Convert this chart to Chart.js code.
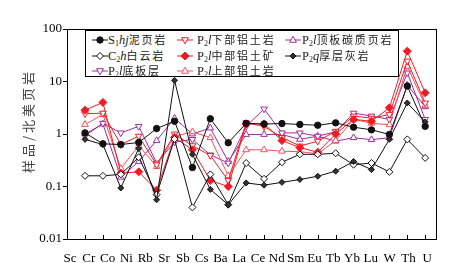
<!DOCTYPE html>
<html><head><meta charset="utf-8">
<script src="https://cdn.jsdelivr.net/npm/chart.js@4/dist/chart.umd.min.js"></script>
<style>
html,body{margin:0;padding:0;background:#fff;}
#wrap{position:relative;width:459px;height:263px;}
#legend{position:absolute;left:85px;top:30px;width:314px;height:47px;border:1px solid #000;background:#fff;box-sizing:border-box;}
.mk{position:absolute;}
.tx{position:absolute;font-family:"Liberation Serif",serif;font-size:12.5px;color:#222;white-space:nowrap;line-height:14px;}
.tx .cn{font-family:"Noto Sans CJK SC",sans-serif;font-size:11px;letter-spacing:1.8px;}
.tx sub{font-size:8px;vertical-align:-2px;line-height:0;}
</style></head>
<body>
<div id="wrap">
<canvas id="c" width="459" height="263"></canvas>
<div id="legend"></div>
</div>
<script>
// ---- data ----
const cats = ['Sc','Cr','Co','Ni','Rb','Sr','Sb','Cs','Ba','La','Ce','Nd','Sm','Eu','Tb','Yb','Lu','W','Th','U'];
const yTickVals = [0.01, 0.1, 1, 10, 100];
const s1hjShale   = [1.05,0.65,0.63,0.69,1.27,1.75,0.23,1.95,0.68,1.6,1.55,1.58,1.52,1.47,1.63,1.35,1.2,0.98,8.2,1.4];
const c2hDolomite = [0.16,0.16,0.17,0.36,0.07,0.8,0.04,0.17,0.045,0.28,0.14,0.29,0.41,0.41,0.43,0.26,0.28,0.19,0.79,0.35];
const p2lFloor    = [0.92,1.6,1.05,1.4,0.28,0.7,0.79,0.4,0.28,1.4,3.0,1.05,1.05,0.91,1.1,2.5,2.2,1.9,14.6,1.9];
const p2lLower    = [2.43,2.5,0.63,0.91,0.26,1.0,0.6,0.39,0.13,1.63,1.4,0.86,0.59,0.73,1.13,2.2,2.0,2.35,24.5,3.9];
const p2lMiddle   = [2.84,4.0,0.18,0.19,0.085,0.86,0.5,0.13,0.1,1.55,1.56,0.75,0.55,0.45,1.0,1.9,1.75,3.15,37.8,6.1];
const p2lUpper    = [1.52,2.35,0.22,0.6,0.24,0.9,1.1,0.85,0.16,0.5,0.5,0.47,0.46,0.42,0.75,1.9,1.6,1.5,19.5,3.5];
const p2lRoof     = [1.0,1.55,0.15,0.3,0.75,2.0,1.0,1.3,0.3,0.98,0.98,0.98,0.79,0.91,0.73,0.85,0.78,0.85,8.5,3.3];
const p2qLime     = [0.79,0.63,0.094,0.53,0.056,10.5,0.41,0.088,0.045,0.117,0.106,0.12,0.136,0.157,0.196,0.3,0.21,0.79,3.9,1.7];
const yTitle = '样品/北美页岩';

const BLACK='#111', RED='#f01c24', RED2='#f4505c', PURP='#a02c9c';

const series = [
 {label:'S₁hj泥页岩', html:'S<sub>1</sub><i>hj</i><span class="cn">泥页岩</span>', data:s1hjShale, color:BLACK, style:'circle', rot:0, fill:BLACK, r:3.2, order:1},
 {label:'C₂h白云岩', html:'C<sub>2</sub><i>h</i><span class="cn">白云岩</span>', data:c2hDolomite, color:BLACK, style:'rectRot', rot:0, fill:'#fff', r:3.5, order:3},
 {label:'P₂l底板层', html:'P<sub>2</sub><i>l</i><span class="cn">底板层</span>', data:p2lFloor, color:PURP, style:'triangle', rot:180, fill:'#fff', r:3.8, order:7},
 {label:'P₂l下部铝土岩', html:'P<sub>2</sub><i>l</i><span class="cn">下部铝土岩</span>', data:p2lLower, color:RED, style:'triangle', rot:180, fill:'#fff', r:3.8, order:5},
 {label:'P₂l中部铝土矿', html:'P<sub>2</sub><i>l</i><span class="cn">中部铝土矿</span>', data:p2lMiddle, color:RED, style:'rectRot', rot:0, fill:RED, r:4, order:4},
 {label:'P₂l上部铝土岩', html:'P<sub>2</sub><i>l</i><span class="cn">上部铝土岩</span>', data:p2lUpper, color:RED2, style:'triangle', rot:0, fill:'#fff', r:3.8, order:6},
 {label:'P₂l顶板碳质页岩', html:'P<sub>2</sub><i>l</i><span class="cn">顶板碳质页岩</span>', data:p2lRoof, color:PURP, style:'triangle', rot:0, fill:'#fff', r:3.8, order:8},
 {label:'P₂q厚层灰岩', html:'P<sub>2</sub><i>q</i><span class="cn">厚层灰岩</span>', data:p2qLime, color:BLACK, style:'rectRot', rot:0, fill:'#333', r:3, order:2}
];

const framePlugin = {
 id:'frame',
 afterDraw(chart){
  const {ctx, chartArea:a, scales} = chart;
  ctx.save();
  ctx.strokeStyle='#000'; ctx.lineWidth=1;
  ctx.strokeRect(a.left+0.5, a.top+0.5, a.right-a.left-1, a.bottom-a.top);
  for(let i=0;i<cats.length;i++){
    const px=Math.round(scales.x.getPixelForValue(i))+0.5;
    ctx.beginPath(); ctx.moveTo(px,a.bottom); ctx.lineTo(px,a.bottom-4); ctx.stroke();
  }
  ctx.restore();
  // y-axis title, drawn char by char (bottom to top)
  ctx.save();
  ctx.translate(28,122.5); ctx.rotate(-Math.PI/2);
  ctx.font='13px "Noto Sans CJK SC"'; ctx.fillStyle='#444';
  ctx.textAlign='left'; ctx.textBaseline='middle';
  const chars=[...yTitle];
  const ws=chars.map(c=>ctx.measureText(c).width);
  const total=101;
  const gap=(total-ws.reduce((p,q)=>p+q,0))/(chars.length-1);
  let x=-total/2;
  chars.forEach((c,i)=>{ ctx.fillText(c,x,0); x+=ws[i]+gap; });
  ctx.restore();
 }
};

new Chart(document.getElementById('c'), {
 type:'line',
 data:{ datasets: series.map(s=>({
   label:s.label,
   data:s.data.map((v,i)=>({x:i,y:v})),
   borderColor:s.color, backgroundColor:s.fill,
   pointBorderColor:s.color, pointBackgroundColor:s.fill,
   borderWidth:1, pointBorderWidth:1,
   pointStyle:s.style, pointRotation:s.rot, pointRadius:s.r,
   order:s.order, xAxisID:'x', yAxisID:'y', tension:0
 }))},
 options:{
  responsive:false, animation:false, devicePixelRatio:1,
  layout:{padding:{top:29,right:22,left:0,bottom:0}},
  plugins:{legend:{display:false}, tooltip:{enabled:false}},
  scales:{
   x:{type:'linear', display:false, min:-1.006, max:19.66},
   x2:{type:'linear', position:'bottom', min:-0.16, max:19.52,
       grid:{display:false}, border:{display:false},
       ticks:{stepSize:1, includeBounds:false, autoSkip:false, maxRotation:0, padding:4,
              color:'#000', font:{family:'"Liberation Serif", serif', size:13},
              callback:(v)=> Number.isInteger(v) && cats[v] !== undefined ? cats[v] : ''},
       afterFit:(s)=>{ s.height=24; }},
   y:{type:'logarithmic', min:0.01, max:100,
      grid:{drawOnChartArea:false, drawTicks:true, tickLength:4, color:'#000'},
      border:{display:false},
      afterBuildTicks:(s)=>{ s.ticks = yTickVals.map(v=>({value:v, major:true})); },
      ticks:{autoSkip:false, padding:1, color:'#000', font:{family:'"Liberation Serif", serif', size:13},
             callback:(v)=> v>=1 ? String(Math.round(v)) : String(+v.toPrecision(1))},
      afterFit:(s)=>{ s.width=67; }}
  }
 },
 plugins:[framePlugin]
});

// ---- legend (HTML) ----
function markerSVG(s){
  const w=16,h=10,cx=8,cy=5,r=s.r;
  let shape='';
  if(s.style==='circle') shape=`<circle cx="${cx}" cy="${cy}" r="${r}" fill="${s.fill}" stroke="${s.color}"/>`;
  else if(s.style==='rectRot') shape=`<polygon points="${cx},${cy-r} ${cx+r},${cy} ${cx},${cy+r} ${cx-r},${cy}" fill="${s.fill}" stroke="${s.color}"/>`;
  else { const d = s.rot===180 ? 1 : -1;
    shape=`<polygon points="${cx},${cy+d*r} ${cx+r*0.9},${cy-d*r*0.6} ${cx-r*0.9},${cy-d*r*0.6}" fill="${s.fill}" stroke="${s.color}"/>`; }
  return `<svg width="${w}" height="${h}" style="display:block"><line x1="0" y1="${cy}" x2="${w}" y2="${cy}" stroke="${s.color}"/>${shape}</svg>`;
}
const cols=[{m:6,t:22},{m:91,t:111},{m:199,t:216}];
const rows=[2,17.5,33];
const pos=[[0,0],[0,1],[0,2],[1,0],[1,1],[1,2],[2,0],[2,1]];
const lg=document.getElementById('legend');
series.forEach((s,k)=>{
  const [c,r]=pos[k];
  const m=document.createElement('div'); m.className='mk';
  m.style.left=cols[c].m+'px'; m.style.top=(rows[r]+2)+'px'; m.innerHTML=markerSVG(s);
  const t=document.createElement('div'); t.className='tx';
  t.style.left=cols[c].t+'px'; t.style.top=(rows[r]-1)+'px'; t.innerHTML=s.html;
  lg.appendChild(m); lg.appendChild(t);
});
</script>
</body></html>
